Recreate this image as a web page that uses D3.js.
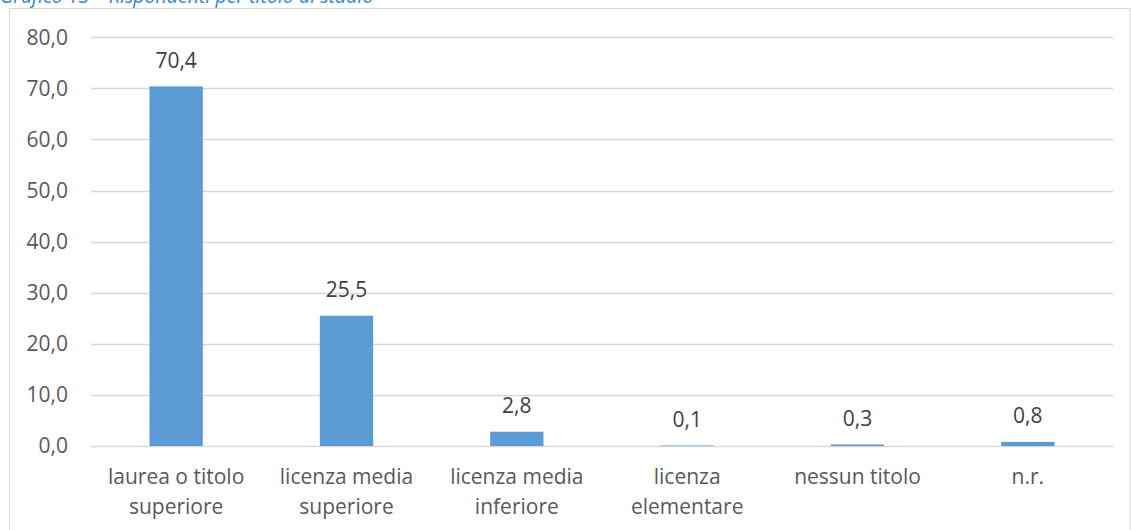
<!DOCTYPE html>
<html>
<head>
<meta charset="utf-8">
<script src="https://cdn.jsdelivr.net/npm/d3@7"></script>
<style>
  html, body { margin: 0; padding: 0; background: #fff; }
  svg { display: block; }
  text { font-family: "Open Sans", "Noto Sans", sans-serif; }
</style>
</head>
<body>
<svg id="chart" width="1131" height="530"></svg>
<script>
// Rispondenti per titolo di studio (%)
const categories = [
  "laurea o titolo\nsuperiore",
  "licenza media\nsuperiore",
  "licenza media\ninferiore",
  "licenza\nelementare",
  "nessun titolo",
  "n.r."
];
const values = [70.4, 25.5, 2.8, 0.1, 0.3, 0.8];
const yTicks = [0, 10, 20, 30, 40, 50, 60, 70, 80];
const title = "Grafico 13 – Rispondenti per titolo di studio";

const W = 1131, H = 530;
const plot = { left: 91, right: 1113, top: 37.3, bottom: 446 };
const FS = 21;

const svg = d3.select("#chart");
const fmt = v => d3.format(".1f")(v).replace(".", ",");

// chart frame
svg.append("rect")
  .attr("x", 9.5).attr("y", 8.5)
  .attr("width", W - 10.5).attr("height", H)
  .attr("fill", "#fff").attr("stroke", "#D9D9D9").attr("stroke-width", 1);

// caption above the frame
svg.append("text")
  .attr("x", 0).attr("y", 3)
  .attr("fill", "#2E86D4")
  .attr("font-style", "italic")
  .attr("font-size", 19.5)
  .text(title);

const x = d3.scaleBand()
  .domain(categories)
  .range([plot.left, plot.right])
  .paddingInner(0.687)
  .paddingOuter(0.3435);

const y = d3.scaleLinear()
  .domain([0, 80])
  .range([plot.bottom, plot.top]);

// horizontal gridlines
svg.append("g")
  .selectAll("line")
  .data(yTicks)
  .join("line")
  .attr("x1", plot.left).attr("x2", plot.right)
  .attr("y1", d => Math.round(y(d)) + 0.5)
  .attr("y2", d => Math.round(y(d)) + 0.5)
  .attr("stroke", "#D9D9D9").attr("stroke-width", 1.3);

// y axis labels
const yAxis = d3.axisLeft(y).tickValues(yTicks).tickFormat(fmt).tickSize(0).tickPadding(0);
const gy = svg.append("g")
  .attr("transform", `translate(68,0)`)
  .call(yAxis);
gy.select(".domain").remove();
gy.selectAll("text")
  .attr("fill", "#595959")
  .attr("font-size", FS)
  .attr("font-family", "'Open Sans', sans-serif");

// bars
svg.append("g")
  .selectAll("rect")
  .data(values)
  .join("rect")
  .attr("x", (d, i) => x(categories[i]))
  .attr("width", x.bandwidth())
  .attr("y", d => y(d))
  .attr("height", d => y(0) - y(d))
  .attr("fill", "#5B9BD5");

// value labels
svg.append("g")
  .selectAll("text")
  .data(values)
  .join("text")
  .attr("x", (d, i) => x(categories[i]) + x.bandwidth() / 2)
  .attr("y", d => y(d) - 18.5)
  .attr("text-anchor", "middle")
  .attr("fill", "#404040")
  .attr("font-size", FS)
  .text(fmt);

// category labels
const xl = svg.append("g")
  .selectAll("text")
  .data(categories)
  .join("text")
  .attr("x", d => x(d) + x.bandwidth() / 2)
  .attr("y", 484)
  .attr("text-anchor", "middle")
  .attr("fill", "#595959")
  .attr("font-size", FS);
xl.selectAll("tspan")
  .data(d => d.split("\n").map(s => ({ s, cx: x(d) + x.bandwidth() / 2 })))
  .join("tspan")
  .attr("x", d => d.cx)
  .attr("dy", (d, i) => i === 0 ? 0 : 29.5)
  .text(d => d.s);
</script>
</body>
</html>
